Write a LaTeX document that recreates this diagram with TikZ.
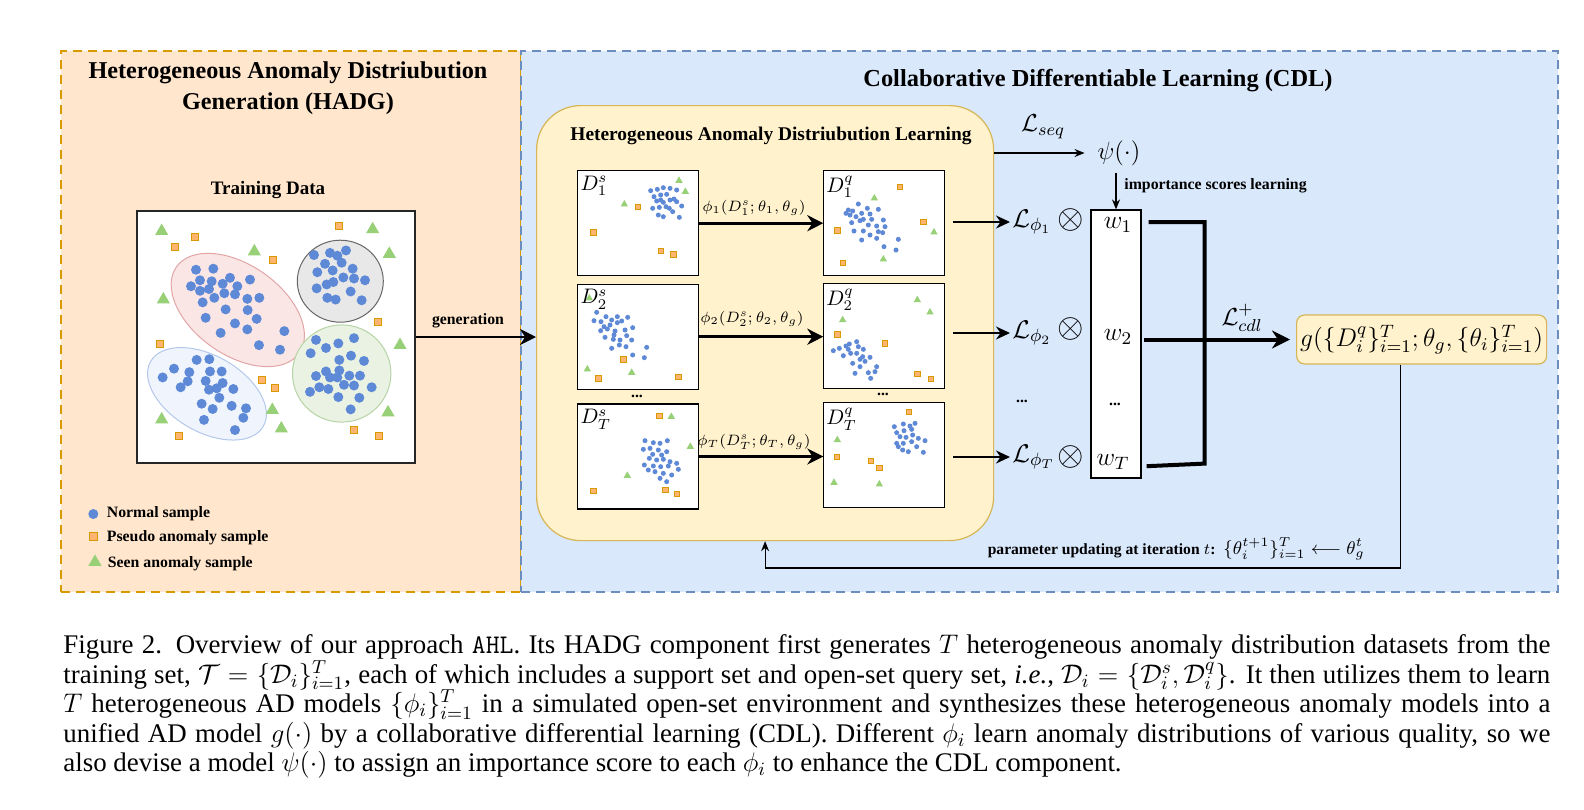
\documentclass[tikz,border=0pt]{standalone}
\usepackage{fix-cm}
\usepackage[no-math]{fontspec}
\setmainfont{Liberation Serif}
\usetikzlibrary{arrows.meta,shapes.geometric,calc}
\newcommand{\myfs}[1]{\fontsize{#1}{#1}\selectfont}
\definecolor{orfill}{HTML}{FFE6CC}
\definecolor{ordraw}{HTML}{D79B00}
\definecolor{blfill}{HTML}{DAE8FC}
\definecolor{bldraw}{HTML}{6C8EBF}
\definecolor{yfill}{HTML}{FFF2CC}
\definecolor{ydraw}{HTML}{D6B656}
\definecolor{dotblue}{HTML}{5E89D6}
\definecolor{sqfill}{HTML}{FFB570}
\definecolor{sqdraw}{HTML}{D79B00}
\definecolor{trifill}{HTML}{97D077}
\definecolor{pinkfill}{HTML}{FBE6E6}
\definecolor{pinkdraw}{HTML}{E3A6A6}
\definecolor{grayfill}{HTML}{E8E8E8}
\definecolor{graydraw}{HTML}{666666}
\definecolor{grnfill}{HTML}{EAF2E4}
\definecolor{grndraw}{HTML}{B7D4A6}
\definecolor{bluefill}{HTML}{F0F5FD}
\definecolor{bluedraw}{HTML}{B4C8EC}
\begin{document}
\begin{tikzpicture}[x=0.5pt,y=-0.5pt,
  bdot/.style={circle,fill=dotblue,inner sep=0pt,minimum size=5pt},
  bsq/.style={rectangle,fill=sqfill,draw=sqdraw,line width=0.4pt,inner sep=0pt,minimum size=3.5pt},
  btri/.style={regular polygon,regular polygon sides=3,fill=trifill,inner sep=0pt,minimum size=7.6pt},
  sdot/.style={circle,fill=dotblue,inner sep=0pt,minimum size=2.5pt},
  ssq/.style={rectangle,fill=sqfill,draw=sqdraw,line width=0.35pt,inner sep=0pt,minimum size=2.6pt},
  stri/.style={regular polygon,regular polygon sides=3,fill=trifill,inner sep=0pt,minimum size=4.3pt},
  panelO/.style={draw=ordraw,fill=orfill,line width=0.75pt,dash pattern=on 4.5pt off 3pt,inner sep=0pt,outer sep=0pt},
  panelB/.style={draw=bldraw,fill=blfill,line width=0.75pt,dash pattern=on 4.5pt off 3pt,inner sep=0pt,outer sep=0pt},
  sbox/.style={draw=black,fill=white,line width=0.6pt,minimum width=60.5pt,minimum height=52.5pt,inner sep=0pt,outer sep=0pt},
  arrT/.style={line width=1.4pt,-{Stealth[length=8pt,width=8pt]}},
  arrM/.style={line width=1pt,-{Stealth[length=7pt,width=6.5pt]}},
  arrB/.style={line width=2pt,-{Stealth[length=9pt,width=9pt]}},
  arrS/.style={line width=0.6pt,-{Stealth[length=5pt,width=4pt]}},
  brk/.style={line width=2pt},
  smlab/.style={font=\bfseries\fontsize{7.9}{9}\selectfont,inner sep=0pt},
  mth/.style={inner sep=1pt}
]
\useasboundingbox (0,0) rectangle (1584,809);
\fill[white] (0,0) rectangle (1584,809);

% panels
\node[panelO,anchor=north west,minimum width=230pt,minimum height=270.5pt] (hadg) at (61,51) {};
\node[panelB,anchor=north west,minimum width=518.5pt,minimum height=270.5pt] (cdl) at (521,51) {};

% titles
\node[align=center,font={\bfseries\fontsize{12.1}{15.5}\selectfont}] (hadgt) at (288,88) {Heterogeneous Anomaly Distriubution\\Generation (HADG)};
\node[font={\bfseries\fontsize{12.2}{14}\selectfont}] (cdlt) at (1098,81) {Collaborative Differentiable Learning (CDL)};

% training data
\node[font={\bfseries\fontsize{9.5}{11}\selectfont}] (traint) at (268,190) {Training Data};
\node[draw=black!85,fill=white,line width=0.6pt,minimum width=139pt,minimum height=126pt,inner sep=0pt] (trbox) at (276,337) {};
\draw[pinkdraw,fill=pinkfill,line width=0.5pt,rotate around={-35:(237.8,310)}] (237.8,310) ellipse [x radius=37.5pt,y radius=22.5pt];
\draw[bluedraw,fill=bluefill,line width=0.5pt,rotate around={-30:(207,393.8)}] (207,393.8) ellipse [x radius=32.5pt,y radius=19pt];
\draw[graydraw,fill=grayfill,line width=0.5pt] (340.3,281.2) ellipse [x radius=21.5pt,y radius=20.5pt];
\draw[grndraw,fill=grnfill,line width=0.5pt] (341.7,373.5) ellipse [x radius=24.6pt,y radius=24.3pt];
\begin{scope}[shift={(60,40)},xscale=0.33333,yscale=0.35075]
\foreach \x/\y in {408/655,460/652,420/685,455/688,488/695,510/678,570/683,393/702,420/715,447/710,463/735,493/722,525/725,532/702,562/738,598/735,428/748,497/768,563/770,437/792,590/795,525/808,562/825,482/835,673/830,597/870,660/883,
762/613,810/607,832/615,858/600,845/635,795/638,818/657,878/652,772/662,850/677,882/680,915/685,800/697,820/690,770/708,872/717,905/742,802/735,827/740,
410/912,448/910,342/937,388/947,450/945,485/945,308/962,383/973,437/972,488/978,362/990,447/997,470/993,520/995,478/1020,425/1037,515/1043,558/1050,458/1052,550/1077,432/1083,525/1112,
768/855,835/865,882/850,798/878,752/893,873/900,912/915,838/912,798/945,838/942,768/958,810/962,832/962,868/957,900/957,852/983,882/985,778/990,805/995,750/1003,935/990,835/1018,898/1020,872/1053}
  \node[bdot] at (\x,\y) {};
\foreach \x/\y in {837/530,404/560,344/591,640/627,955/805,301/866,607/968,644/992,881/1113,358/1128,958/1128}
  \node[bsq] at (\x,\y) {};
\foreach \x/\y in {305/545,938/540,583/603,988/610,310/740,1020/870,637/1055,984/1062,305/1082,664/1108}
  \node[btri] at (\x,\y) {};
\end{scope}

% legend
\node[bdot] (lg1) at (93.3,514) {};
\node[smlab,anchor=west] (lt1) at (106.5,514) {Normal sample};
\node[bsq,minimum size=3.7pt] (lg2) at (93.3,536.5) {};
\node[smlab,anchor=west] (lt2) at (106.5,538) {Pseudo anomaly sample};
\node[btri] (lg3) at (95,562) {};
\node[smlab,anchor=west] (lt3) at (107.5,563.5) {Seen anomaly sample};

% HADL
\node[draw=ydraw,fill=yfill,line width=0.6pt,rounded corners=22pt,anchor=north west,minimum width=228.5pt,minimum height=217.5pt,inner sep=0pt] (hadl) at (536,105) {};
\node[font={\bfseries\fontsize{9.7}{11}\selectfont}] (hadlt) at (771,136) {Heterogeneous Anomaly Distriubution Learning};

\draw[arrT] (trbox.east) -- (trbox.east -| hadl.west);
\node[smlab] (gen) at (468,321) {generation};

\node[sbox] (d1s) at (638,223.2) {};
\node[sbox] (d1q) at (883.8,223.2) {};
\node[sbox] (d2s) at (638,336.7) {};
\node[sbox] (d2q) at (883.8,335.8) {};
\node[sbox] (dTs) at (638,456.5) {};
\node[sbox] (dTq) at (883.8,454.8) {};

\begin{scope}[shift={(530,100)},scale=0.33333]
\foreach \x/\y in {362/272,382/268,400/263,420/265,440/270,372/290,392/285,410/283,432/297,380/303,400/307,420/300,440/305,455/318,368/325,388/322,408/320,428/335,448/352,385/345,400/350,418/325,392/300,
948/340,968/333,985/312,1012/325,1045/328,960/345,978/350,995/340,1020/342,1000/358,1025/358,1060/360,965/368,990/362,1015/375,1040/378,1065/380,972/393,1000/393,1045/395,1020/405,1058/398,995/420,1040/415,1105/418,1062/440,1098/450,955/330,
200/637,192/662,213/665,228/650,245/660,262/650,293/652,222/680,240/675,262/668,275/663,212/692,232/687,255/693,285/690,308/683,225/712,252/705,290/707,305/720,245/745,268/735,288/740,350/742,308/765,343/773,250/718,270/720,
910/752,928/745,948/738,955/748,980/725,985/740,1000/748,940/767,962/760,980/760,998/770,1020/772,1005/784,968/790,990/800,1040/800,975/820,1015/818,1035/815,1022/835,958/732,990/778,
345/1022,370/1028,390/1030,412/1022,340/1048,360/1045,385/1050,410/1055,358/1075,380/1080,400/1078,420/1085,440/1090,343/1095,370/1098,392/1100,415/1098,445/1108,355/1110,375/1115,400/1120,425/1125,410/1145,390/1135,368/1063,395/1065,
1093/980,1120/972,1140/978,1155/970,1100/998,1122/992,1145/988,1110/1010,1128/1012,1148/1005,1165/1015,1185/1022,1100/1030,1120/1030,1145/1025,1160/1040,1118/1050,1135/1055,1180/1057,1105/1040}
  \node[sdot] at (\x,\y) {};
\foreach \x/\y in {323/320,190/397,393/452,430/463,1110/260,1180/366,922/391,938/488,280/778,205/835,445/830,922/703,1065/730,1162/822,1203/837,388/948,190/1172,406/1170,440/1182,1137/935,920/1070,1022/1083,1048/1103}
  \node[ssq] at (\x,\y) {};
\foreach \x/\y in {447/242,466/275,283/313,1033/295,1212/397,1060/478,178/595,172/808,305/818,1162/600,1200/637,938/660,424/950,481/1040,292/1127,922/1020,912/1148,1048/1153}
  \node[stri] at (\x,\y) {};
\end{scope}

\node[mth,anchor=north west] (ld1s) at ([shift={(0.3pt,-1.5pt)}]d1s.north west) {\myfs{10.5}$D_1^s$};
\node[mth,anchor=north west] (ld1q) at ([shift={(0.3pt,-1.5pt)}]d1q.north west) {\myfs{10.5}$D_1^q$};
\node[mth,anchor=north west] (ld2s) at ([shift={(0.3pt,-1.5pt)}]d2s.north west) {\myfs{10.5}$D_2^s$};
\node[mth,anchor=north west] (ld2q) at ([shift={(0.3pt,-1.5pt)}]d2q.north west) {\myfs{10.5}$D_2^q$};
\node[mth,anchor=north west] (ldTs) at ([shift={(0.3pt,-1.5pt)}]dTs.north west) {\myfs{10.5}$D_T^s$};
\node[mth,anchor=north west] (ldTq) at ([shift={(0.3pt,-1.5pt)}]dTq.north west) {\myfs{10.5}$D_T^q$};

\node[smlab] (dd1) at (637,396) {...};
\node[smlab] (dd2) at (883,394) {...};

\draw[arrT] (d1s.east) -- (d1q.west);
\draw[arrT] (d2s.east) -- (d2s.east -| d2q.west);
\draw[arrT] (dTs.east) -- (dTs.east -| dTq.west);
\node[mth] (phi1) at (754,208) {\myfs{7.5}$\phi_1(D_1^s;\theta_1,\theta_g)$};
\node[mth] (phi2) at (752,319) {\myfs{7.5}$\phi_2(D_2^s;\theta_2,\theta_g)$};
\node[mth] (phiT) at (754,442) {\myfs{7.5}$\phi_T(D_T^s;\theta_T,\theta_g)$};

% right part
\node[mth,anchor=west] (L1) at (1010,222) {\myfs{12.8}$\mathcal{L}_{\phi_1}$};
\node[mth,anchor=west] (L2) at (1010,333) {\myfs{12.8}$\mathcal{L}_{\phi_2}$};
\node[mth,anchor=west] (LT) at (1010,457) {\myfs{12.8}$\mathcal{L}_{\phi_T}$};
\draw[arrM] ($(L1.west -| d1q.east)+(4.5pt,0)$) -- (L1.west);
\draw[arrM] ($(L2.west -| d2q.east)+(4.5pt,0)$) -- (L2.west);
\draw[arrM] ($(LT.west -| dTq.east)+(4.5pt,0)$) -- (LT.west);
\node[smlab] (dd3) at (1022,401) {...};

\node[inner sep=0pt] (ot1) at (1071,220) {\myfs{17}$\otimes$};
\node[inner sep=0pt] (ot2) at (1071,329) {\myfs{17}$\otimes$};
\node[inner sep=0pt] (otT) at (1071,457) {\myfs{17}$\otimes$};

\node[draw=black,fill=white,line width=0.6pt,minimum width=25pt,minimum height=134pt,inner sep=0pt] (wbox) at (1116,344) {};
\node[mth] (w1) at (1118,225) {\myfs{12.8}$w_1$};
\node[mth] (w2) at (1118,337) {\myfs{12.8}$w_2$};
\node[smlab] (dd4) at (1115,404) {...};
\node[mth] (wT) at (1113,462) {\myfs{12.8}$w_T$};

\node (psi) at (1119,153) {\myfs{12.5}$\psi(\cdot)$};
\node[mth] (lseq) at (1043,127) {\myfs{12.3}$\mathcal{L}_{seq}$};
\draw[arrS,shorten >=3pt] (hadl.east |- psi) -- (psi.west);
\draw[arrS] (wbox.north |- psi.south) -- (wbox.north);
\node[smlab,anchor=west] (imp) at (1124,186) {importance scores learning};

\coordinate (b1) at ($(wbox.north east)+(3.5pt,-6.3pt)$);
\coordinate (bT) at ($(wbox.south east)+(2.5pt,6.2pt)$);
\coordinate (bj) at ($(b1)+(28pt,0)$);
\draw[brk] (b1) -- (bj) -- ($(bj |- bT)+(0,1.3pt)$) -- (bT);

\node[draw=ydraw,fill=yfill,line width=0.6pt,rounded corners=4pt,anchor=west,minimum width=125pt,minimum height=24.5pt,inner sep=0pt] (gbox) at (1296,339.5) {\myfs{12.8}$g(\{D_i^q\}_{i=1}^T;\theta_g,\{\theta_i\}_{i=1}^T)$};
\draw[arrB,shorten >=3pt] ($(wbox.east |- gbox.west)+(1pt,0)$) -- (gbox.west);
\node[mth] (lcdl) at (1242,318) {\myfs{12.3}$\mathcal{L}_{cdl}^{+}$};

\coordinate (fbc) at (1400.7,568);
\draw[arrS] (gbox.south -| fbc) -- (fbc) -| (hadl.south);
\node[anchor=east,inner sep=0pt] (param) at (1365,549) {{\bfseries\fontsize{7.8}{9}\selectfont parameter updating at iteration $t$:}\hspace{4pt}{\myfs{9.2}$\{\theta_i^{t+1}\}_{i=1}^{T}\longleftarrow\theta_g^t$}};

% caption
\begin{scope}[every node/.style={anchor=base west,inner sep=0pt,font=\fontsize{13.45}{15}\selectfont}]
\node (cap1) at (63,653.5) {\hbox to 743.5pt{Figure 2. Overview of our approach \texttt{AHL}. Its HADG component first generates $T$ heterogeneous anomaly distribution datasets from the}};
\node (cap2) at (63,683) {\hbox to 743.5pt{training set, $\mathcal{T}=\{\mathcal{D}_i\}_{i=1}^T$, each of which includes a support set and open-set query set, \textit{i.e.}, $\mathcal{D}_i=\{\mathcal{D}_i^s,\mathcal{D}_i^q\}$. It then utilizes them to learn}};
\node (cap3) at (63,712.5) {\hbox to 743.5pt{$T$ heterogeneous AD models $\{\phi_i\}_{i=1}^T$ in a simulated open-set environment and synthesizes these heterogeneous anomaly models into a}};
\node (cap4) at (63,742) {\hbox to 743.5pt{unified AD model $g(\cdot)$ by a collaborative differential learning (CDL). Different $\phi_i$ learn anomaly distributions of various quality, so we}};
\node (cap5) at (63,771.5) {also devise a model $\psi(\cdot)$ to assign an importance score to each $\phi_i$ to enhance the CDL component.};
\end{scope}
\end{tikzpicture}
\end{document}
